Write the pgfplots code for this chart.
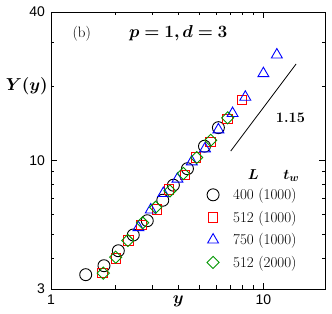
\documentclass[border=0pt]{standalone}
\usepackage{fontspec}
\setsansfont{Liberation Sans}
\usepackage{bm}
\usepackage{pgfplots}
\pgfplotsset{compat=1.18}
\definecolor{myred}{RGB}{255,0,0}
\definecolor{myblue}{RGB}{0,0,255}
\definecolor{mygreen}{RGB}{0,150,0}
\newcommand\fs[1]{\fontsize{#1}{#1}\selectfont}
\begin{document}
\begin{tikzpicture}
\begin{axis}[name=ax, scale only axis, width=274pt, height=277pt,
  xmode=log, ymode=log, xmin=1, xmax=19.5, ymin=3, ymax=40,
  xtick={1,10}, xticklabels={1,10}, minor xtick={2,3,4,5,6,7,8,9},
  ytick={3,10,40}, yticklabels={3,10,40}, minor ytick={4,5,6,7,8,9,20,30},
  tick align=inside, major tick length=6pt, minor tick length=3.5pt,
  axis line style={line width=0.8pt},
  every tick/.style={black, line width=0.8pt},
  ticklabel style={font=\sffamily\fs{14}},
  yticklabel style={xshift=-2.5pt},
  xticklabel style={yshift=-2pt},
  legend style={draw=none, fill=none, at={(0.5686,0.3709)}, anchor=north west,
    inner xsep=0pt, inner ysep=0pt, row sep=5.8pt, font=\fs{15},
    /tikz/every odd column/.append style={column sep=12pt}},
  legend cell align=left,
  clip=false]
\addplot[only marks, mark=o, mark size=6pt, line width=0.9pt, black] coordinates {
(1.457,3.43) (1.776,3.73) (2.075,4.29) (2.44,4.97) (2.84,5.68) (3.36,6.88)
(3.77,7.92) (4.39,9.24) (5.28,11.4) (6.14,13.56)};
\addlegendentry{400 (1000)}
\addplot[only marks, mark=square, mark size=4.8pt, line width=0.9pt, myred] coordinates {
(1.752,3.48) (2.02,4.00) (2.31,4.72) (2.67,5.46) (3.15,6.32) (3.59,7.61)
(4.28,8.70) (4.82,10.25) (5.65,11.86) (6.77,14.74) (7.91,17.6)};
\addlegendentry{512 (1000)}
\addplot[only marks, mark=triangle, mark size=6.3pt, line width=0.9pt, myblue] coordinates {
(2.58,5.33) (2.95,6.29) (3.38,7.34) (3.94,8.39) (4.60,9.86) (5.31,11.14)
(6.14,13.31) (7.16,15.5) (8.22,18.05) (10.0,22.5) (11.57,26.8)};
\addlegendentry{750 (1000)}
\addplot[only marks, mark=square, mark size=4.3pt, mark options={rotate=45}, line width=0.9pt, mygreen] coordinates {
(1.763,3.48) (2.016,4.04) (2.30,4.72) (2.70,5.57) (3.11,6.44) (3.63,7.51)
(4.20,8.83) (4.85,10.25) (5.65,12.05) (6.79,14.87)};
\addlegendentry{512 (2000)}
\addplot[black, line width=0.8pt, forget plot] coordinates {(7.02,10.9) (14.26,24.6)};
\node[anchor=base] at (rel axis cs:0.112,0.9087) {\fs{15}(b)};
\node[anchor=base] at (rel axis cs:0.4646,0.9087) {\fs{16}$\bm{p=1, d=3}$};
\node[anchor=base] at (rel axis cs:0.874,0.6004) {\fs{14.5}\textbf{1.15}};
\node[anchor=base] at (rel axis cs:0.7383,0.396) {\fs{15}$\bm{L}$};
\node[anchor=base] at (rel axis cs:0.8770,0.396) {\fs{15}$\bm{t_w}$};
\node[anchor=east, inner sep=0pt] at (rel axis cs:-0.011,0.733) {\fs{19}$\bm{Y(y)}$};
\node[anchor=base] at (rel axis cs:0.4646,-0.054) {\fs{19}$\bm{y}$};
\end{axis}
\pgfresetboundingbox
\path[use as bounding box] ([xshift=-51pt,yshift=-25pt]ax.south west) rectangle ([xshift=7pt,yshift=12pt]ax.north east);
\end{tikzpicture}
\end{document}
